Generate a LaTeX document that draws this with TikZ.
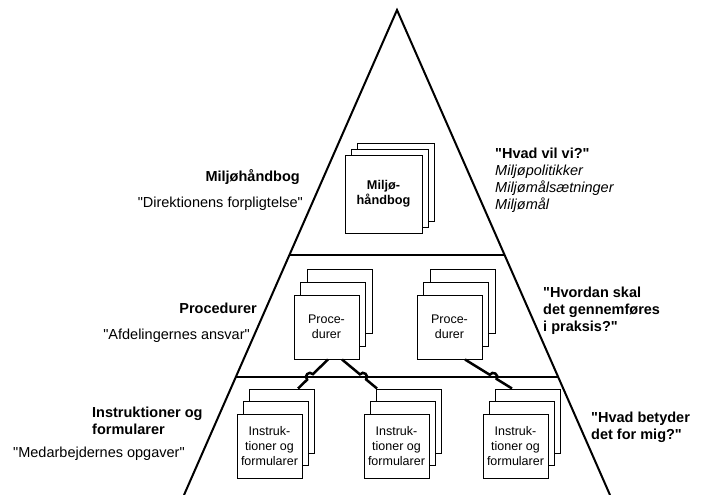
\documentclass[tikz,border=0pt]{standalone}
\usepackage{fontspec}
\setmainfont{Liberation Sans}[Ligatures=TeXOff]
\usetikzlibrary{calc}
\def\thickness{2pt}
\tikzset{
sheet/.style={draw, fill=white, line width=1pt, inner sep=0pt,
	minimum width=65pt, minimum height=64pt, align=center,
	font=\fontsize{12.5}{14.6}\selectfont},
bigsheet/.style={sheet, minimum width=77pt, minimum height=78pt,
	font=\fontsize{12.7}{14.6}\selectfont\bfseries},
level/.style={line width=\thickness},
link/.style={line width=2.5pt},
title/.style={inner sep=0pt, font=\fontsize{14.5}{17}\selectfont\bfseries},
quote/.style={inner sep=0pt, font=\fontsize{14.5}{17}\selectfont},
question/.style={inner sep=0pt, align=left, anchor=north west,
	font=\fontsize{14.5}{17}\selectfont},
}
% name, style, front centre, shift per sheet, text
\newcommand{\sheetstack}[5]{%
	\node[#2] (#1-3) at ($#3+2*#4$) {};
	\node[#2] (#1-2) at ($#3+#4$) {};
	\node[#2] (#1) at #3 {#5};
}
% from, to, side of the hop
\newcommand{\hopline}[3]{%
	\coordinate (hop) at ($(#1)!0.6!(#2)$);
	\draw[link] (#1) -- ($(hop)!4pt!(#1)$)
		to[bend #3=90, looseness=1.7] ($(hop)!4pt!(#2)$) -- (#2);
}

\begin{document}
\begin{tikzpicture}[x=1pt, y=-1pt]
\useasboundingbox (0,0) rectangle (705,495);

%The pyramid
\coordinate (apex) at (397,10);
\coordinate (bl) at (184,495);
\coordinate (br) at (610,495);
\draw[level] (bl) -- (apex) -- (br);
\draw[level] ($(apex)!0.5052!(bl)$) coordinate (l1w) -- ($(apex)!0.5052!(br)$) coordinate (l1e);
\draw[level] ($(apex)!0.7567!(bl)$) coordinate (l2w) -- ($(apex)!0.7567!(br)$) coordinate (l2e);

%Place the sheets
\sheetstack{hb}{bigsheet}{(383.5,194)}{(6,-6)}{Milj\o-\\h\aa ndbog}
\sheetstack{proc1}{sheet}{(326.5,327)}{(6.5,-13)}{Proce-\\durer}
\sheetstack{proc2}{sheet}{(449.5,327)}{(6.5,-13)}{Proce-\\durer}
\sheetstack{inst1}{sheet}{(269.5,446)}{(6,-12.5)}{Instruk-\\tioner og\\formularer}
\sheetstack{inst2}{sheet}{(396.5,446)}{(6,-12.5)}{Instruk-\\tioner og\\formularer}
\sheetstack{inst3}{sheet}{(515.5,446)}{(6,-12.5)}{Instruk-\\tioner og\\formularer}

%Links between levels
\coordinate (a1) at ($(proc1.south)+(1.5,0)$);
\coordinate (a2) at ($(proc1.south)+(15.5,0)$);
\coordinate (a3) at ($(proc2.south)+(15.5,0)$);
\coordinate (b1) at ($(inst1-3.north)+(16.5,0)$);
\coordinate (b2) at ($(inst2-3.north)+(-31.5,0)$);
\coordinate (b3) at ($(inst3-3.north)+(-15.5,0)$);
\hopline{a1}{b1}{right}
\hopline{a2}{b2}{left}
\hopline{a3}{b3}{left}

%Left labels
\node[title, anchor=base east] (hbtitle) at (300,181) {Milj\o h\aa ndbog};
\node[quote, anchor=base east] (hbquote) at (303,207) {"Direktionens forpligtelse"};
\node[title, anchor=base east] (proctitle) at (257,313) {Procedurer};
\node[quote, anchor=base east] (procquote) at (250,339) {"Afdelingernes ansvar"};
\node[title, align=left, anchor=north west] (insttitle) at (92,406.5) {Instruktioner og\\formularer};
\node[quote, anchor=base west] (instquote) at (13,457) {"Medarbejdernes opgaver"};

%Right labels
\node[question] (hbquest) at (495,148) {\textbf{"Hvad vil vi?"}\\\textit{Milj\o politikker}\\\textit{Milj\o m\aa ls\ae tninger}\\\textit{Milj\o m\aa l}};
\node[question, font=\fontsize{14.5}{17}\selectfont\bfseries] (procquest) at (543,287) {"Hvordan skal\\det gennemf\o res\\i praksis?"};
\node[question, font=\fontsize{14.5}{17}\selectfont\bfseries] (instquest) at (591,412) {"Hvad betyder\\det for mig?"};

\end{tikzpicture}
\end{document}
